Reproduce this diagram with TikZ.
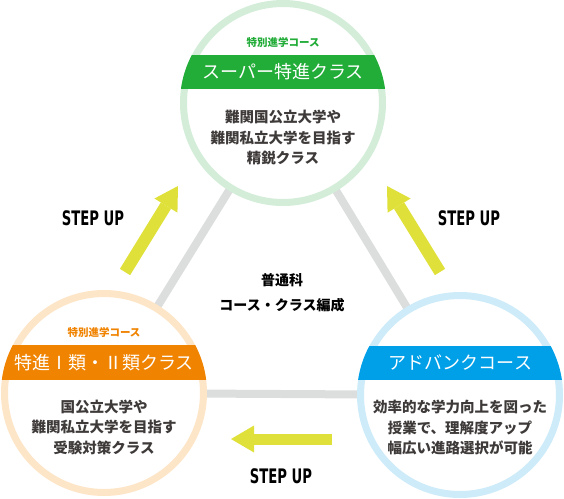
\documentclass[tikz,border=0pt]{standalone}
\usepackage{fontspec}
\usepackage{tikz}
\usetikzlibrary{positioning}
\usetikzlibrary{backgrounds}
\usetikzlibrary{arrows.meta}
\newfontfamily\cjk{Noto Sans CJK JP}
\newfontfamily\stepfont[FakeStretch=0.66]{DejaVu Sans}
\definecolor{supergreen}{HTML}{22AC38}
\definecolor{greenring}{HTML}{D3EDD9}
\definecolor{specialorange}{HTML}{F08300}
\definecolor{orangering}{HTML}{FDE5C8}
\definecolor{advanceblue}{HTML}{00A0E9}
\definecolor{bluering}{HTML}{CDEBF8}
\definecolor{linkgray}{HTML}{DCDDDD}
\definecolor{arrowyellow}{HTML}{DFE03A}
\definecolor{desctext}{HTML}{3E3A39}
\begin{document}
\begin{tikzpicture}[x=1pt,y=-1pt,
	course ring/.style={circle,fill=white,line width=7pt,minimum size=199pt,inner sep=0pt},
	link/.style={draw=linkgray,line width=8pt},
	banner text/.style={text=white,font=\cjk\fontsize{18}{20}\selectfont},
	header text/.style={font=\cjk\bfseries\fontsize{10.5}{12}\selectfont},
	desc text/.style={text=desctext,align=center,font=\cjk\bfseries\fontsize{14.5}{20.5}\selectfont},
	center text/.style={text=black,align=center,font=\cjk\bfseries\fontsize{14}{25}\selectfont},
	step label/.style={font=\stepfont\bfseries\fontsize{20}{22}\selectfont},
	step arrow/.style={draw=arrowyellow,line width=#1,-{Triangle[length=23pt,width=27pt,line width=0pt]}}]
	% Define sizes
	\def\ringradius{103pt}
	\useasboundingbox (0,0) rectangle (564,498);
	
	%course circles
	\node[course ring,draw=greenring] (super) at (283,103) {};
	\node[course ring,draw=orangering] (special) at (104,393) {};
	\node[course ring,draw=bluering] (advance) at (460,395) {};
	
	%triangle behind circles
	\begin{scope}[on background layer]
		\draw[link] (super.center) -- (special.center) -- (advance.center) -- cycle;
	\end{scope}
	
	%banners
	\foreach \c/\x/\top/\bot/\col in {super/283/55/89/supergreen,special/104/345/380/specialorange,advance/460/346/380/advanceblue} {
		\begin{scope}
			\clip (\c.center) circle (\ringradius);
			\fill[\col] (\x-110,\top) rectangle (\x+110,\bot);
		\end{scope}
	}
	
	%top course
	\node[header text,text=supergreen] (super_header) at (283,42.5) {特別進学コース};
	\node[banner text] (super_title) at (283,72) {スーパー特進クラス};
	\node[desc text] (super_desc) at (283,137.5) {難関国公立大学や\\難関私立大学を目指す\\精鋭クラス};
	
	%left course
	\node[header text,text=specialorange] (special_header) at (104,332.5) {特別進学コース};
	\node[banner text] (special_title) at (104,362.5) {特進Ⅰ類・Ⅱ類クラス};
	\node[desc text] (special_desc) at (104,427) {国公立大学や\\難関私立大学を目指す\\受験対策クラス};
	
	%right course
	\node[banner text] (advance_title) at (460,363) {アドバンクコース};
	\node[desc text] (advance_desc) at (460,427.5) {効率的な学力向上を図った\\授業で、理解度アップ\\幅広い進路選択が可能};
	
	%centre
	\node[center text] (plan) at (282,292.5) {普通科\\コース・クラス編成};
	
	%step up arrows
	\coordinate (left_tail) at (125,272);
	\coordinate (left_tip) at (178,186);
	\coordinate (right_tail) at (440,272);
	\coordinate (right_tip) at (387,186);
	\coordinate (bottom_tail) at (332,439);
	\coordinate (bottom_tip) at (231,439);
	\draw[step arrow=12pt] (left_tail) -- (left_tip);
	\draw[step arrow=12pt] (right_tail) -- (right_tip);
	\draw[step arrow=11pt] (bottom_tail) -- (bottom_tip);
	
	\node[step label] (left_step) at (93,218) {STEP UP};
	\node[step label] (right_step) at (469,218) {STEP UP};
	\node[step label] (bottom_step) at (281,476) {STEP UP};

\end{tikzpicture}
\end{document}
